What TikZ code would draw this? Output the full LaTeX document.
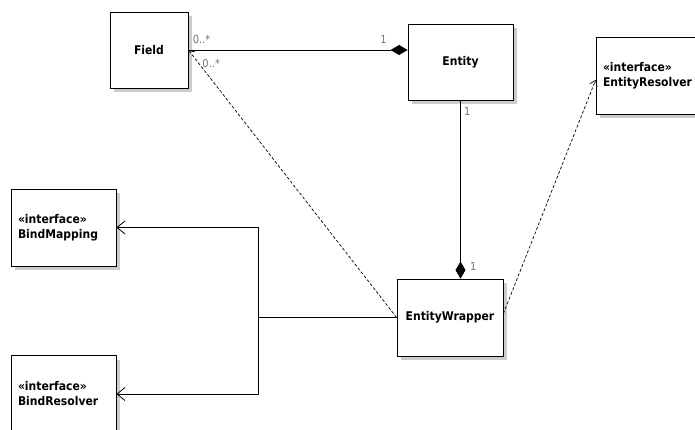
\documentclass[tikz,border=0pt]{standalone}
\usepackage{fontspec}
\setmainfont{DejaVu Sans}[FakeStretch=0.9]
\usetikzlibrary{arrows.meta, shadows}
\tikzstyle{classbox} = [rectangle, draw=black, fill=white, line width=0.8pt,
    minimum width=105pt, minimum height=77pt, font=\bfseries\fontsize{12}{15}\selectfont,
    drop shadow={shadow xshift=4pt, shadow yshift=-4pt, fill=black!20, opacity=1}]
\tikzstyle{iface} = [classbox, align=left, text width=91pt]
\tikzstyle{mult} = [font=\fontsize{11}{13}\selectfont, text=black!55]
\tikzstyle{assoc} = [line width=0.8pt]
\tikzstyle{compose} = [assoc, -{Diamond[length=17pt,width=10pt]}]
\tikzstyle{navigate} = [assoc, -{Straight Barb[length=8pt,width=13pt]}]
\tikzstyle{depend} = [line width=0.7pt, dash pattern=on 3pt off 2pt,
    -{Straight Barb[length=5pt,width=8pt]}]

\begin{document}
\begin{tikzpicture}[x=1pt, y=-1pt]
                \path[use as bounding box, fill=white] (0,0) rectangle (695,430);
                \clip (0,0) rectangle (695,430);

                \node (field) [classbox, minimum width=78pt, minimum height=76pt] at (149,50) {Field};
                \node (entity) [classbox, minimum height=76pt] at (460.5,62) {Entity};
                \node (eres) [iface, minimum width=112pt, text width=98pt] at (652,76) {«interface»\\EntityResolver};
                \node (bindmap) [iface] at (63.5,227.5) {«interface»\\BindMapping};
                \node (bindres) [iface] at (63.5,394) {«interface»\\BindResolver};
                \node (ewrap) [classbox, minimum width=106pt] at (450,317.5) {EntityWrapper};
                \coordinate (fork) at (258,317.5);

                \draw [compose] (field.east) -- node[mult, pos=0.06, above=3pt] {0..*}
                    node[mult, pos=0.89, above=3pt] {1} (field.east -| entity.west);
                \draw [compose] (entity.south) -- node[mult, pos=0.06, right] {1}
                    node[mult, pos=0.93, right=6pt] {1} (entity.south |- ewrap.north);
                \draw [depend] (ewrap.west) -- node[mult, pos=0.95, right] {0..*} (field.east);
                \draw [depend] ([yshift=4pt]ewrap.east) -- ([yshift=-4pt]eres.west);
                \draw [assoc] (ewrap.west) -- (fork);
                \draw [navigate] (fork) |- (bindmap.east);
                \draw [navigate] (fork) |- (bindres.east);
            \end{tikzpicture}
\end{document}
